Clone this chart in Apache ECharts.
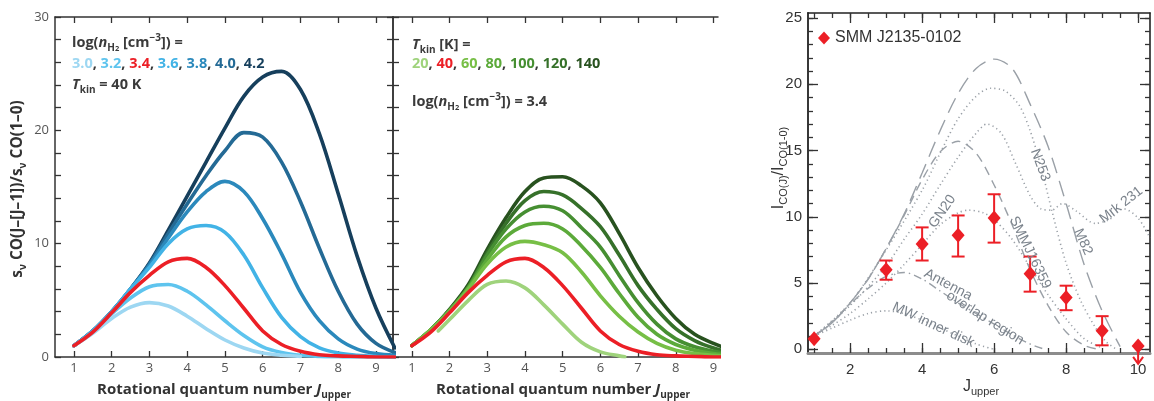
<!DOCTYPE html>
<html><head><meta charset="utf-8">
<script src="https://cdn.jsdelivr.net/npm/echarts@6/dist/echarts.min.js"></script>
<style>html,body{margin:0;padding:0;background:#fff}#c{width:1154px;height:401px}</style>
</head><body><div id="c"></div>
<script>
// ---------------- DATA ----------------
const jGrid = [1,1.5,2,2.5,3,3.5,4,4.5,5,5.5,6,6.5,7,7.5,8,8.5,9,9.5];
const xTickLabels = [1,2,3,4,5,6,7,8,9];
const yTickLabelsLeft = [0,10,20,30];

// Left panel: log(n_H2) series at T_kin = 40 K
const densNames = ['3.0','3.2','3.4','3.6','3.8','4.0','4.2'];
const dens30 = [1.0,2.1,3.4,4.4,4.8,4.5,3.6,2.5,1.5,0.8,0.35,0.15,0.05,null,null,null,null,null];
const dens32 = [1.0,2.2,3.8,5.2,6.2,6.4,5.8,4.6,3.2,1.9,0.9,0.4,0.15,0.05,0.02,0,0,0];
const dens34 = [1.0,2.2,3.9,5.7,7.2,8.4,8.7,7.9,6.3,4.3,2.3,1.1,0.5,0.2,0.1,0.05,0,0];
const dens36 = [1.0,2.3,4.0,6.0,7.9,10.0,11.3,11.6,11.0,9.0,6.1,3.5,1.8,0.8,0.35,0.15,0.05,0];
const dens38 = [1.0,2.3,4.0,6.0,8.1,10.5,12.8,14.6,15.5,14.6,12.2,9.1,5.7,3.2,1.6,0.7,0.3,0.15];
const dens40 = [1.0,2.3,4.0,6.0,8.2,10.9,13.5,16.0,18.2,19.8,19.4,17.2,13.7,9.6,5.8,2.9,1.2,0.4];
const dens42 = [1.0,2.3,4.0,6.0,8.3,11.2,14.2,17.2,20.2,23.0,24.7,25.2,23.6,19.7,14.4,8.9,4.3,0.8];

// Middle panel: T_kin series at log(n_H2) = 3.4
const tempNames = ['20','40','60','80','100','120','140'];
const tempJ20 = [1.7,2,2.5,3,3.5,4,4.5,5,5.5,6,6.5,6.65];
const temp20 = [2.3,3.3,5.0,6.4,6.7,6.1,4.6,2.9,1.3,0.45,0.1,0.02];
const temp40 = dens34;
const temp60 = [1.0,2.4,4.0,6.0,8.2,9.7,10.2,9.9,9.2,7.5,5.4,3.6,2.2,1.2,0.6,0.3,0.15,0.05];
const temp80 = [1.0,2.4,4.1,6.1,8.6,10.6,11.6,11.8,11.3,9.8,7.9,5.6,3.5,2.0,1.1,0.6,0.3,0.15];
const temp100 = [1.0,2.4,4.1,6.2,9.0,11.3,12.8,13.3,12.9,11.4,9.7,7.2,4.8,2.9,1.6,0.9,0.5,0.25];
const temp120 = [1.0,2.4,4.1,6.2,9.2,11.8,13.8,14.6,14.3,13.1,11.5,9.0,6.3,4.2,2.5,1.45,0.8,0.4];
const temp140 = [1.0,2.4,4.2,6.4,9.5,12.3,14.6,15.8,15.9,15.1,13.6,10.9,7.9,5.4,3.4,2.0,1.2,0.6];

// Right panel: CO SLED comparison
const rightXLabels = [2,4,6,8,10];
const rightYLabels = [0,5,10,15,20,25];
const sledLongJ = [1,1.5,2,2.5,3,3.5,4,4.5,5,5.5,6,6.5,7,7.5,8,8.5,9,9.5];
const sledLong  = [1.0,2.0,3.5,5.3,7.6,10.2,13.3,16.5,19.3,21.2,21.9,21.2,18.5,15.3,11.0,6.4,2.9,0.2];
const sledSmmJ16359J = [1,1.5,2,2.5,3,3.5,4,4.5,5,5.5,6,6.5,7,7.5,8,8.5,8.9];
const sledSmmJ16359  = [1.0,2.0,3.5,5.3,7.6,10.1,12.8,14.9,15.7,14.8,12.4,9.4,6.0,3.3,1.3,0.3,0];
const sledUpperDotJ = [1,2,3,4,4.5,5,5.5,5.9,6.3,6.7,7.0,7.3,7.6,8.0,8.4,8.8,9.1,9.4];
const sledUpperDot  = [1.0,3.5,7.5,12.0,14.8,17.4,19.1,19.7,19.5,18.4,16.5,13.8,10.5,6.5,3.7,1.7,0.6,0];
const sledMrk231J = [1,2,3,3.5,4,4.5,5,5.5,5.8,6.2,6.6,7.0,7.3,7.6,7.9,8.3,8.8,9.2,9.6,10.0,10.33];
const sledMrk231  = [1.0,3.3,6.3,8.3,10.2,12.4,14.5,16.3,17.0,16.3,14.0,11.6,10.6,10.5,11.0,10.4,9.5,9.8,10.6,9.9,8.4];
const sledGN20J = [1,1.5,2,2.5,3,3.5,4,4.5,5,5.3,5.7,6,6.5,7,7.5,8,8.5,9];
const sledGN20  = [1.0,1.8,2.7,3.8,5.0,6.4,7.9,9.4,10.3,10.5,10.3,9.8,8.3,6.2,4.1,2.3,0.8,0.1];
const sledAntJ = [1,1.5,2,2.5,3,3.5,4,4.5,5,5.5,6,6.5,7,7.4];
const sledAnt  = [1.0,2.1,3.4,4.6,5.5,5.8,5.3,4.4,3.5,2.7,1.9,1.1,0.4,0];
const sledMWJ = [1,1.5,2,2.5,3,3.5,4,4.5,5,5.5,6];
const sledMW  = [1.0,1.6,2.2,2.7,2.9,2.7,2.2,1.6,1.0,0.4,0];

const obsName = 'SMM J2135-0102';
const obsJ    = [1,3,4,5,6,7,8,9];
const obsVal  = [0.8,6.0,7.95,8.6,9.9,5.7,3.9,1.4];
const obsLow  = [null,5.25,6.7,7.0,8.05,4.35,2.95,0.3];
const obsHigh = [null,6.7,9.2,10.1,11.7,7.0,4.8,2.5];
const limitJ = [10];
const limitVal = [0.25];
const limitEnd = [-1.1];

// ---------------- STYLE ----------------
const FONT = 'Open Sans';
const RFONT = 'Liberation Sans';
const RED = '#ec1f26';
const densColors = {'3.0':'#9dd7f2','3.2':'#5ec4ee','3.4':RED,'3.6':'#42b3e6','3.8':'#2b89bc','4.0':'#246a95','4.2':'#163f5c'};
const tempColors = {'20':'#9fd37c','40':RED,'60':'#77bf46','80':'#5caa3a','100':'#468f32','120':'#36712a','140':'#28521f'};
const GRAY = '#9aa0a7';
const AXC = '#333';

const pairs = (xs, ys) => xs.map((x,i)=>[x, ys[i]]).filter(p=>p[1]!==null);
const range = (a,b,s) => { const r=[]; for(let v=a; v<=b+1e-9; v+=s) r.push(+v.toFixed(3)); return r; };

function axis(o) {
  return {
    type:'value', gridIndex:o.grid, position:o.pos, min:o.min, max:o.max,
    axisLine:{show:o.line!==false, onZero:false, lineStyle:{color:o.lineColor||AXC, width:o.lineWidth||1.5}},
    axisTick:{show:!!o.ticks, inside:true, length:o.tickLen||6, customValues:o.ticks||[], lineStyle:{color:AXC, width:o.tickWidth||1.3}},
    axisLabel:{show:!!o.labels, customValues:o.labels||[], margin:o.margin||6, fontSize:o.fs||13, color:o.lc||'#555', fontFamily:o.ff||FONT},
    splitLine:{show:false}, minorTick:{show:false}
  };
}

const xAxes = [
  axis({grid:0,pos:'bottom',min:0.5,max:9.45,ticks:xTickLabels,labels:xTickLabels,margin:5}),
  axis({grid:0,pos:'top',min:0.5,max:9.45,ticks:xTickLabels}),
  axis({grid:1,pos:'bottom',min:0.5,max:9.12,ticks:xTickLabels,labels:xTickLabels,margin:5}),
  axis({grid:1,pos:'top',min:0.5,max:9.12,ticks:xTickLabels}),
  axis({grid:2,pos:'bottom',min:0.83,max:10.33,ticks:range(1,10,0.5),tickLen:5,lineColor:'#8c8c8c',lineWidth:3}),
  axis({grid:2,pos:'bottom',min:0.83,max:10.33,ticks:rightXLabels,tickLen:10,labels:rightXLabels,line:false,margin:9,fs:15,lc:'#333',ff:RFONT}),
  axis({grid:2,pos:'top',min:0.83,max:10.33,ticks:range(1,10,0.5),tickLen:5,lineColor:'#222',lineWidth:1.6}),
  axis({grid:2,pos:'top',min:0.83,max:10.33,ticks:rightXLabels,tickLen:10,line:false})
];
const yAxes = [
  axis({grid:0,pos:'left',min:0,max:30,ticks:range(0,30,2),labels:yTickLabelsLeft,margin:6}),
  axis({grid:0,pos:'right',min:0,max:30,ticks:range(0,30,2)}),
  axis({grid:1,pos:'left',min:0,max:30,ticks:range(0,30,2)}),
  axis({grid:2,pos:'left',min:-0.28,max:25.38,ticks:range(0,25,1),tickLen:5,lineColor:'#222',lineWidth:1.8}),
  axis({grid:2,pos:'left',min:-0.28,max:25.38,ticks:rightYLabels,tickLen:10,labels:rightYLabels,line:false,margin:6,fs:15,lc:'#333',ff:RFONT}),
  axis({grid:2,pos:'right',min:-0.28,max:25.38,ticks:range(0,25,1),tickLen:5,lineColor:'#222',lineWidth:1.6}),
  axis({grid:2,pos:'right',min:-0.28,max:25.38,ticks:rightYLabels,tickLen:10,line:false})
];

function curve(name, data, color, xi, yi, z) {
  return {type:'line', name, data, xAxisIndex:xi, yAxisIndex:yi, smooth:0.35, showSymbol:false, symbol:'none',
    lineStyle:{color, width:3.6, cap:'round', join:'round'}, itemStyle:{color}, z:z||2, silent:true, clip:true};
}
function model(name, data, dash, width) {
  return {type:'line', name, data, xAxisIndex:4, yAxisIndex:3, smooth:0.3, showSymbol:false, symbol:'none',
    lineStyle:{color:GRAY, width:width||1.4, type:dash}, z:2, silent:true, clip:true};
}

const densData = {'3.0':dens30,'3.2':dens32,'3.4':dens34,'3.6':dens36,'3.8':dens38,'4.0':dens40,'4.2':dens42};
const tempData = {'40':temp40,'60':temp60,'80':temp80,'100':temp100,'120':temp120,'140':temp140};

const series = [];
['4.2','4.0','3.8','3.6','3.2','3.0','3.4'].forEach((n,i)=>{
  series.push(curve('n'+n, pairs(jGrid, densData[n]), densColors[n], 0, 0, 2+i));
});
series.push(curve('T20', pairs(tempJ20, temp20), tempColors['20'], 2, 2, 2));
['140','120','100','80','60','40'].forEach((n,i)=>{
  series.push(curve('T'+n, pairs(jGrid, tempData[n]), tempColors[n], 2, 2, 3+i));
});

series.push(model('MW', pairs(sledMWJ, sledMW), [1.2,3.2], 1.6));
series.push(model('Antennae', pairs(sledAntJ, sledAnt), [8,4,1.5,4]));
series.push(model('GN20', pairs(sledGN20J, sledGN20), [1.2,3.2], 1.6));
series.push(model('SMMJ16359', pairs(sledSmmJ16359J, sledSmmJ16359), [9,6]));
series.push(model('Mrk231', pairs(sledMrk231J, sledMrk231), [1.2,3.2], 1.6));
series.push(model('N253', pairs(sledUpperDotJ, sledUpperDot), [1.2,3.2], 1.6));
series.push(model('M82', pairs(sledLongJ, sledLong), [16,8]));

series.push({
  type:'custom', name:'err', xAxisIndex:4, yAxisIndex:3, z:5, silent:true,
  data: obsJ.map((j,i)=>[j, obsLow[i], obsHigh[i]]).filter(d=>d[1]!==null),
  renderItem(params, api) {
    const x = api.value(0);
    const pL = api.coord([x, api.value(1)]), pH = api.coord([x, api.value(2)]);
    const w = 6.5, st = {stroke:RED, lineWidth:2, fill:null};
    return {type:'group', children:[
      {type:'line', shape:{x1:pL[0],y1:pL[1],x2:pH[0],y2:pH[1]}, style:st},
      {type:'line', shape:{x1:pL[0]-w,y1:pL[1],x2:pL[0]+w,y2:pL[1]}, style:st},
      {type:'line', shape:{x1:pH[0]-w,y1:pH[1],x2:pH[0]+w,y2:pH[1]}, style:st}
    ]};
  }
});
series.push({
  type:'custom', name:'limit', xAxisIndex:4, yAxisIndex:3, z:5, silent:true, clip:false,
  data: limitJ.map((j,i)=>[j, limitVal[i], limitEnd[i]]),
  renderItem(params, api) {
    const x = api.value(0);
    const p0 = api.coord([x, api.value(1)]), p1 = api.coord([x, api.value(2)]);
    const st = {stroke:RED, lineWidth:2, fill:null};
    return {type:'group', children:[
      {type:'line', shape:{x1:p0[0],y1:p0[1],x2:p1[0],y2:p1[1]}, style:st},
      {type:'polyline', shape:{points:[[p1[0]-5,p1[1]-7],[p1[0],p1[1]],[p1[0]+5,p1[1]-7]]}, style:st}
    ]};
  }
});
series.push({
  type:'scatter', name:obsName, xAxisIndex:4, yAxisIndex:3, z:6, silent:true,
  symbol:'diamond', symbolSize:[13,15], itemStyle:{color:RED, opacity:1},
  data: pairs(obsJ, obsVal).concat(pairs(limitJ, limitVal))
});

const chart = echarts.init(document.getElementById('c'), null, {width:1154, height:401});
chart.setOption({
  animation:false,
  backgroundColor:'#fff',
  grid:[
    {left:55, top:17, width:338, height:340},
    {left:393, top:17, width:325, height:340},
    {left:808, top:13, width:342, height:340}
  ],
  xAxis:xAxes, yAxis:yAxes,
  legend:{show:true, left:813, top:25, data:[{name:obsName, icon:'diamond', itemStyle:{color:RED, opacity:1}}], itemWidth:12, itemHeight:13, itemGap:5,
    textStyle:{fontFamily:RFONT, fontSize:16, color:'#333'}, selectedMode:false},
  series
});

// ---------------- TEXT ----------------
function tk(base, o) {
  return Object.assign({fontFamily:base.fontFamily, fontWeight:base.fontWeight, fontSize:base.fontSize, fill:base.fill, fontStyle:'normal'}, o||{});
}
const B = {fontFamily:FONT, fontWeight:'bold', fontSize:14.5, fill:'#3a3a3a'};
function legendRich(base, colors) {
  const r = {
    k: tk(base),
    i: tk(base, {fontStyle:'italic'}),
    s: tk(base, {fontSize:10, lineHeight:10, verticalAlign:'bottom'}),
    ss: tk(base, {fontSize:7.5, lineHeight:4, verticalAlign:'bottom'}),
    sup: tk(base, {fontSize:10, lineHeight:10, verticalAlign:'top'})
  };
  if (colors) Object.keys(colors).forEach((n,i)=>{ r['c'+i] = tk(base, {fill:colors[n]}); });
  return r;
}
function colorLine(names) {
  return names.map((n,i)=>'{c'+i+'|'+n+'}').join('{k|, }');
}
const graphics = [];
function txt(x, y, text, base, rich, extra) {
  graphics.push(Object.assign({type:'text', x, y, silent:true, z:20,
    style:Object.assign({text, rich, fontFamily:base.fontFamily, fontWeight:base.fontWeight, fontSize:base.fontSize, fill:base.fill, lineHeight:20, align:'left', verticalAlign:'middle'}, extra&&extra.style||{})},
    extra&&extra.el||{}));
}
const densOrdered = {}; densNames.forEach(n=>densOrdered[n]=densColors[n]);
const tempOrdered = {}; tempNames.forEach(n=>tempOrdered[n]=tempColors[n]);
const rL = legendRich(B, densOrdered);
const rM = legendRich(B, tempOrdered);
txt(72, 43, '{k|log(}{i|n}{s|H}{ss|2}{k| [cm}{sup|−3}{k|]) =}', B, rL);
txt(72, 64, colorLine(densNames), B, rL);
txt(72, 85, '{i|T}{s|kin}{k| = 40 K}', B, rL);
txt(412, 45, '{i|T}{s|kin}{k| [K] =}', B, rM);
txt(412, 64, colorLine(tempNames), B, rM);
txt(412, 102, '{k|log(}{i|n}{s|H}{ss|2}{k| [cm}{sup|−3}{k|]) = 3.4}', B, rM);

// axis titles (left & middle)
const T = {fontFamily:FONT, fontWeight:'bold', fontSize:15, fill:'#333'};
const rT = legendRich(T);
txt(224, 390, '{k|Rotational quantum number }{i|J}{s|upper}', T, rT, {style:{align:'center'}});
txt(563, 390, '{k|Rotational quantum number }{i|J}{s|upper}', T, rT, {style:{align:'center'}});
const TY = {fontFamily:FONT, fontWeight:'bold', fontSize:15.5, fill:'#333'};
const rTY = legendRich(TY);
txt(18, 189, '{k|s}{s|ν}{k| CO(J–[J–1])/s}{s|ν}{k| CO(1–0)}', TY, rTY, {style:{align:'center'}, el:{rotation:Math.PI/2}});

// right panel titles
const RT = {fontFamily:RFONT, fontWeight:'normal', fontSize:16, fill:'#333'};
const rRT = {k:tk(RT), s:tk(RT,{fontSize:11, lineHeight:10, verticalAlign:'bottom'})};
txt(779, 168, '{k|I}{s|CO(J)}{k|/I}{s|CO(1-0)}', RT, rRT, {style:{align:'center'}, el:{rotation:Math.PI/2}});
txt(963, 387, '{k|J}{s|upper}', RT, rRT);

// right panel curve labels, anchored in data coordinates
const LB = {fontFamily:RFONT, fontWeight:'normal', fontSize:14, fill:'#7b838c'};
const curveLabels = [
  ['GN20', 4.56, 10.4, 55],
  ['N253', 7.28, 13.9, -70],
  ['M82', 8.47, 8.1, -66],
  ['SMMJ16359', 7.0, 7.3, -64],
  ['Mrk 231', 9.53, 10.9, 38],
  ['Antenna', 4.72, 4.87, -28],
  ['overlap region', 5.75, 2.36, -32],
  ['MW inner disk', 4.31, 1.84, -25]
];
curveLabels.forEach(([t, j, v, deg])=>{
  const p = chart.convertToPixel({xAxisIndex:4, yAxisIndex:3}, [j, v]);
  txt(p[0], p[1], t, LB, {}, {style:{align:'center'}, el:{rotation:deg*Math.PI/180}});
});

chart.setOption({graphic:graphics});
</script></body></html>
